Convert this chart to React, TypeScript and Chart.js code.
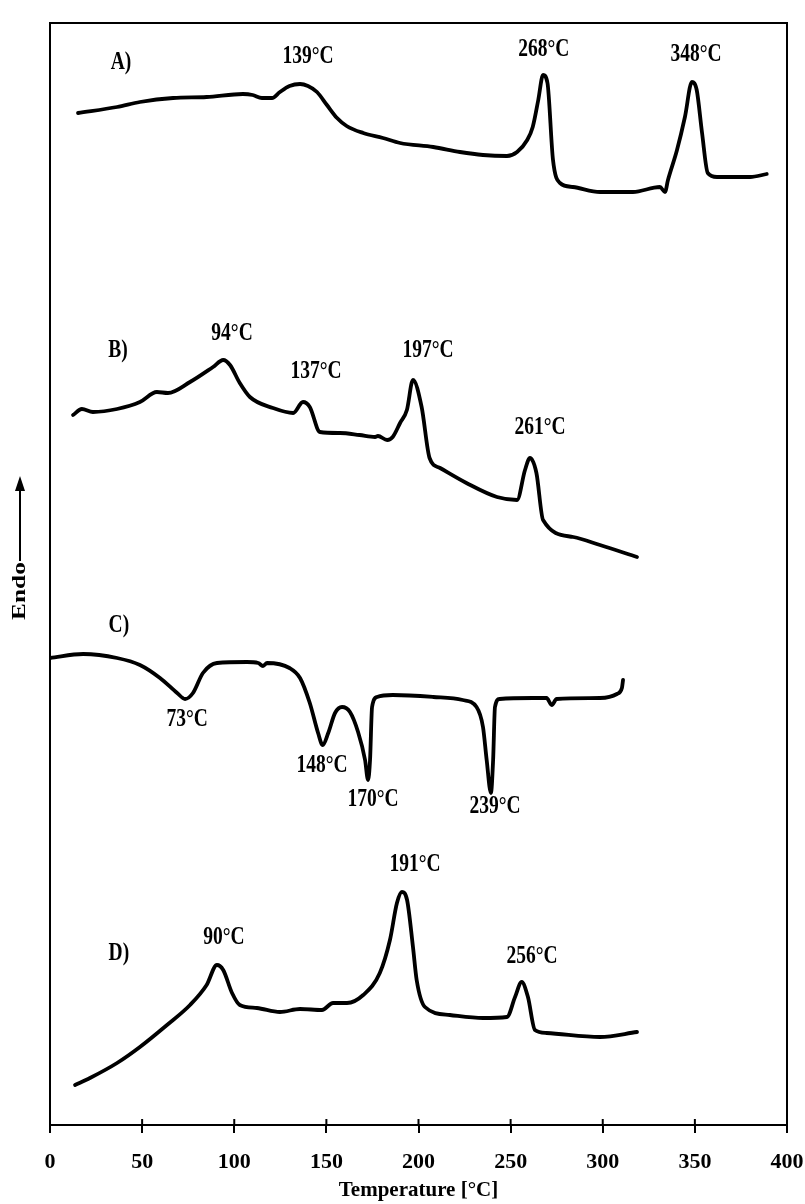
import React, { useEffect, useRef } from "react";
import { Chart, registerables } from "chart.js";

Chart.register(...registerables);

// ---- Data (temperature in °C, signal in arbitrary units, curves offset vertically) ----
const tempA = [15.2, 36.4, 48.8, 66.8, 85, 104.7, 110, 115, 120.5, 124.8, 130, 135.7, 140, 144.9, 150.3, 155.8, 161, 170, 180.7, 190, 208, 222.5, 235, 248, 253.5, 259, 262, 265, 267.6, 270, 273, 276.8, 283.8, 298.5, 316.4, 331, 333.8, 335.4, 340.3, 344.6, 348.4, 351, 353.9, 357, 362, 380, 389];
const sigA = [101.2, 101.8, 102.3, 102.7, 102.8, 103.1, 103.0, 102.7, 102.7, 103.3, 103.9, 104.1, 103.9, 103.3, 102.0, 100.7, 99.9, 99.2, 98.7, 98.2, 97.8, 97.3, 97.0, 96.9, 97.3, 98.5, 99.8, 102.5, 105.0, 104.2, 96.5, 94.2, 93.8, 93.3, 93.3, 93.8, 93.3, 94.5, 97.5, 100.8, 104.3, 103.5, 99.2, 95.2, 94.8, 94.8, 95.1];

const tempB = [12.5, 17.3, 23.3, 36.4, 48.8, 58, 64, 76, 88.5, 94, 97.7, 103, 108.5, 121, 132, 137.3, 141, 146.5, 157.4, 168, 176.4, 178, 183, 186, 190, 193.7, 197, 201.7, 206, 211.7, 226, 242.6, 253.5, 257.8, 260.5, 264, 267.6, 284, 298.5, 318.6];
const sigB = [71.0, 71.6, 71.3, 71.6, 72.3, 73.3, 73.2, 74.3, 75.8, 76.5, 76.0, 74.2, 72.8, 71.7, 71.2, 72.3, 71.8, 69.3, 69.2, 69.0, 68.8, 68.9, 68.5, 68.8, 70.2, 71.5, 74.5, 71.8, 66.7, 65.7, 64.2, 62.8, 62.5, 65.5, 66.7, 65.2, 60.5, 58.8, 58.0, 56.8];

const tempC = [0, 18, 36.4, 48.8, 59.7, 69, 73.3, 77.6, 83, 90.6, 106.9, 113, 115.6, 117.8, 130, 135.7, 141, 145.5, 148, 151, 154.7, 158.5, 162.8, 167.2, 171, 172.6, 173.7, 174.8, 177.5, 186, 208, 224, 231.5, 235, 237, 239.3, 240.5, 241.5, 244, 262, 269.5, 272.3, 275, 298.5, 307.7, 310.4, 311];
const sigC = [46.7, 47.1, 46.7, 46.0, 44.7, 43.2, 42.6, 43.2, 45.2, 46.2, 46.3, 46.2, 45.9, 46.2, 45.7, 44.7, 42.2, 39.2, 38.0, 39.2, 41.2, 41.8, 41.3, 39.3, 36.5, 34.5, 36.5, 41.8, 42.8, 43.0, 42.8, 42.5, 41.8, 39.8, 36.5, 33.2, 36.5, 41.8, 42.6, 42.7, 42.7, 42.0, 42.6, 42.7, 43.1, 43.7, 44.5];

const tempD = [13.6, 21.7, 36.4, 48.8, 63.5, 76, 85, 90.6, 94, 98.8, 103, 112.3, 124.8, 135.7, 147.6, 153.6, 161.2, 170, 179, 184.5, 188.3, 191, 193.8, 197, 199, 203.5, 217, 235, 248, 252.4, 256, 259.4, 263.2, 269.5, 298.5, 318.6];
const sigD = [4.0, 4.7, 6.2, 7.8, 10.0, 12.0, 14.0, 16.0, 15.5, 13.2, 12.0, 11.7, 11.3, 11.6, 11.5, 12.2, 12.2, 13.0, 15.2, 18.5, 22.2, 23.3, 22.5, 17.8, 14.5, 11.8, 11.0, 10.7, 10.8, 12.8, 14.3, 12.8, 9.5, 9.2, 8.8, 9.3];

const xTicks = [0, 50, 100, 150, 200, 250, 300, 350, 400];

// Annotation texts anchored at (temperature, signal)
const annText = ["A)", "139°C", "268°C", "348°C", "B)", "94°C", "137°C", "197°C", "261°C", "C)", "73°C", "148°C", "170°C", "239°C", "D)", "90°C", "191°C", "256°C"];
const annT = [38.5, 140, 268, 350.6, 36.9, 98.8, 144.4, 205.2, 266, 37.4, 74.4, 147.6, 175.3, 241.5, 37.4, 94.4, 198.1, 261.6];
const annV = [106.2, 106.8, 107.5, 107.0, 77.4, 79.1, 75.3, 77.4, 69.7, 49.9, 40.5, 35.9, 32.5, 31.8, 17.1, 18.7, 26.0, 16.8];

const FONT = '"Liberation Serif", "Times New Roman", Times, serif';

const toPoints = (xs: number[], ys: number[]) => xs.map((x, i) => ({ x, y: ys[i] }));

const decorPlugin = {
  id: "decor",
  afterDraw(chart: any) {
    const { ctx, chartArea: a, scales } = chart;
    const xs = scales.x;
    const ys = scales.y;
    ctx.save();
    ctx.strokeStyle = "#000";
    ctx.fillStyle = "#000";
    ctx.lineWidth = 2;
    ctx.strokeRect(a.left, a.top, a.right - a.left, a.bottom - a.top);
    // inward part of the tick marks
    xs.ticks.forEach((t: any) => {
      const px = xs.getPixelForValue(t.value);
      ctx.beginPath();
      ctx.moveTo(px, a.bottom);
      ctx.lineTo(px, a.bottom - 6);
      ctx.stroke();
    });
    // annotations (slightly tall, condensed look)
    ctx.font = `bold 19.5px ${FONT}`;
    ctx.textAlign = "center";
    ctx.textBaseline = "middle";
    annText.forEach((s, i) => {
      const px = xs.getPixelForValue(annT[i]);
      const py = ys.getPixelForValue(annV[i]);
      ctx.save();
      ctx.translate(px, py);
      ctx.scale(1, 1.25);
      ctx.fillText(s, 0, 0);
      ctx.restore();
    });
    // Endo arrow label
    const ex = a.left - 30;
    ctx.save();
    ctx.translate(ex, 591);
    ctx.rotate(-Math.PI / 2);
    ctx.scale(1.3, 1);
    ctx.fillText("Endo", 0, 0);
    ctx.restore();
    ctx.lineWidth = 2;
    ctx.beginPath();
    ctx.moveTo(ex, 561);
    ctx.lineTo(ex, 486);
    ctx.stroke();
    ctx.beginPath();
    ctx.moveTo(ex, 476);
    ctx.lineTo(ex - 5, 491);
    ctx.lineTo(ex + 5, 491);
    ctx.closePath();
    ctx.fill();
    ctx.restore();
  },
};

export default function App() {
  const ref = useRef<HTMLCanvasElement>(null);
  useEffect(() => {
    if (!ref.current) return;
    const line = (data: any) => ({
      data,
      borderColor: "#000",
      borderWidth: 3.8,
      pointRadius: 0,
      cubicInterpolationMode: "monotone" as const,
      borderCapStyle: "round" as const,
      borderJoinStyle: "round" as const,
      fill: false,
    });
    const chart = new Chart(ref.current, {
      type: "line",
      data: {
        datasets: [
          { label: "A", ...line(toPoints(tempA, sigA)) },
          { label: "B", ...line(toPoints(tempB, sigB)) },
          { label: "C", ...line(toPoints(tempC, sigC)) },
          { label: "D", ...line(toPoints(tempD, sigD)) },
        ],
      },
      options: {
        animation: false,
        responsive: false,
        devicePixelRatio: 1,
        layout: { padding: { left: 50, right: 18, top: 23, bottom: 0 } },
        plugins: { legend: { display: false }, tooltip: { enabled: false } },
        scales: {
          x: {
            type: "linear",
            min: 0,
            max: 400,
            afterBuildTicks: (scale: any) => {
              scale.ticks = xTicks.map((v) => ({ value: v }));
            },
            afterFit: (scale: any) => {
              scale.height = 79;
              scale.paddingLeft = 0;
              scale.paddingRight = 0;
            },
            grid: { display: true, drawOnChartArea: false, drawTicks: true, tickLength: 8, color: "#000", lineWidth: 2 },
            border: { display: true, color: "#000", width: 2 },
            ticks: { color: "#000", padding: 16, font: { family: FONT, size: 22, weight: "bold" }, maxRotation: 0 },
            title: { display: true, text: "Temperature [°C]", color: "#000", font: { family: FONT, size: 21, weight: "bold" }, padding: { top: 0, bottom: 1 } },
          },
          y: { type: "linear", display: false, min: 0, max: 110.2 },
        },
      },
      plugins: [decorPlugin],
    });
    return () => chart.destroy();
  }, []);
  return (
    <div style={{ position: "fixed", left: 0, top: 0, width: 805, height: 1204, background: "#fff" }}>
      <canvas ref={ref} width={805} height={1204} style={{ display: "block" }} />
    </div>
  );
}
